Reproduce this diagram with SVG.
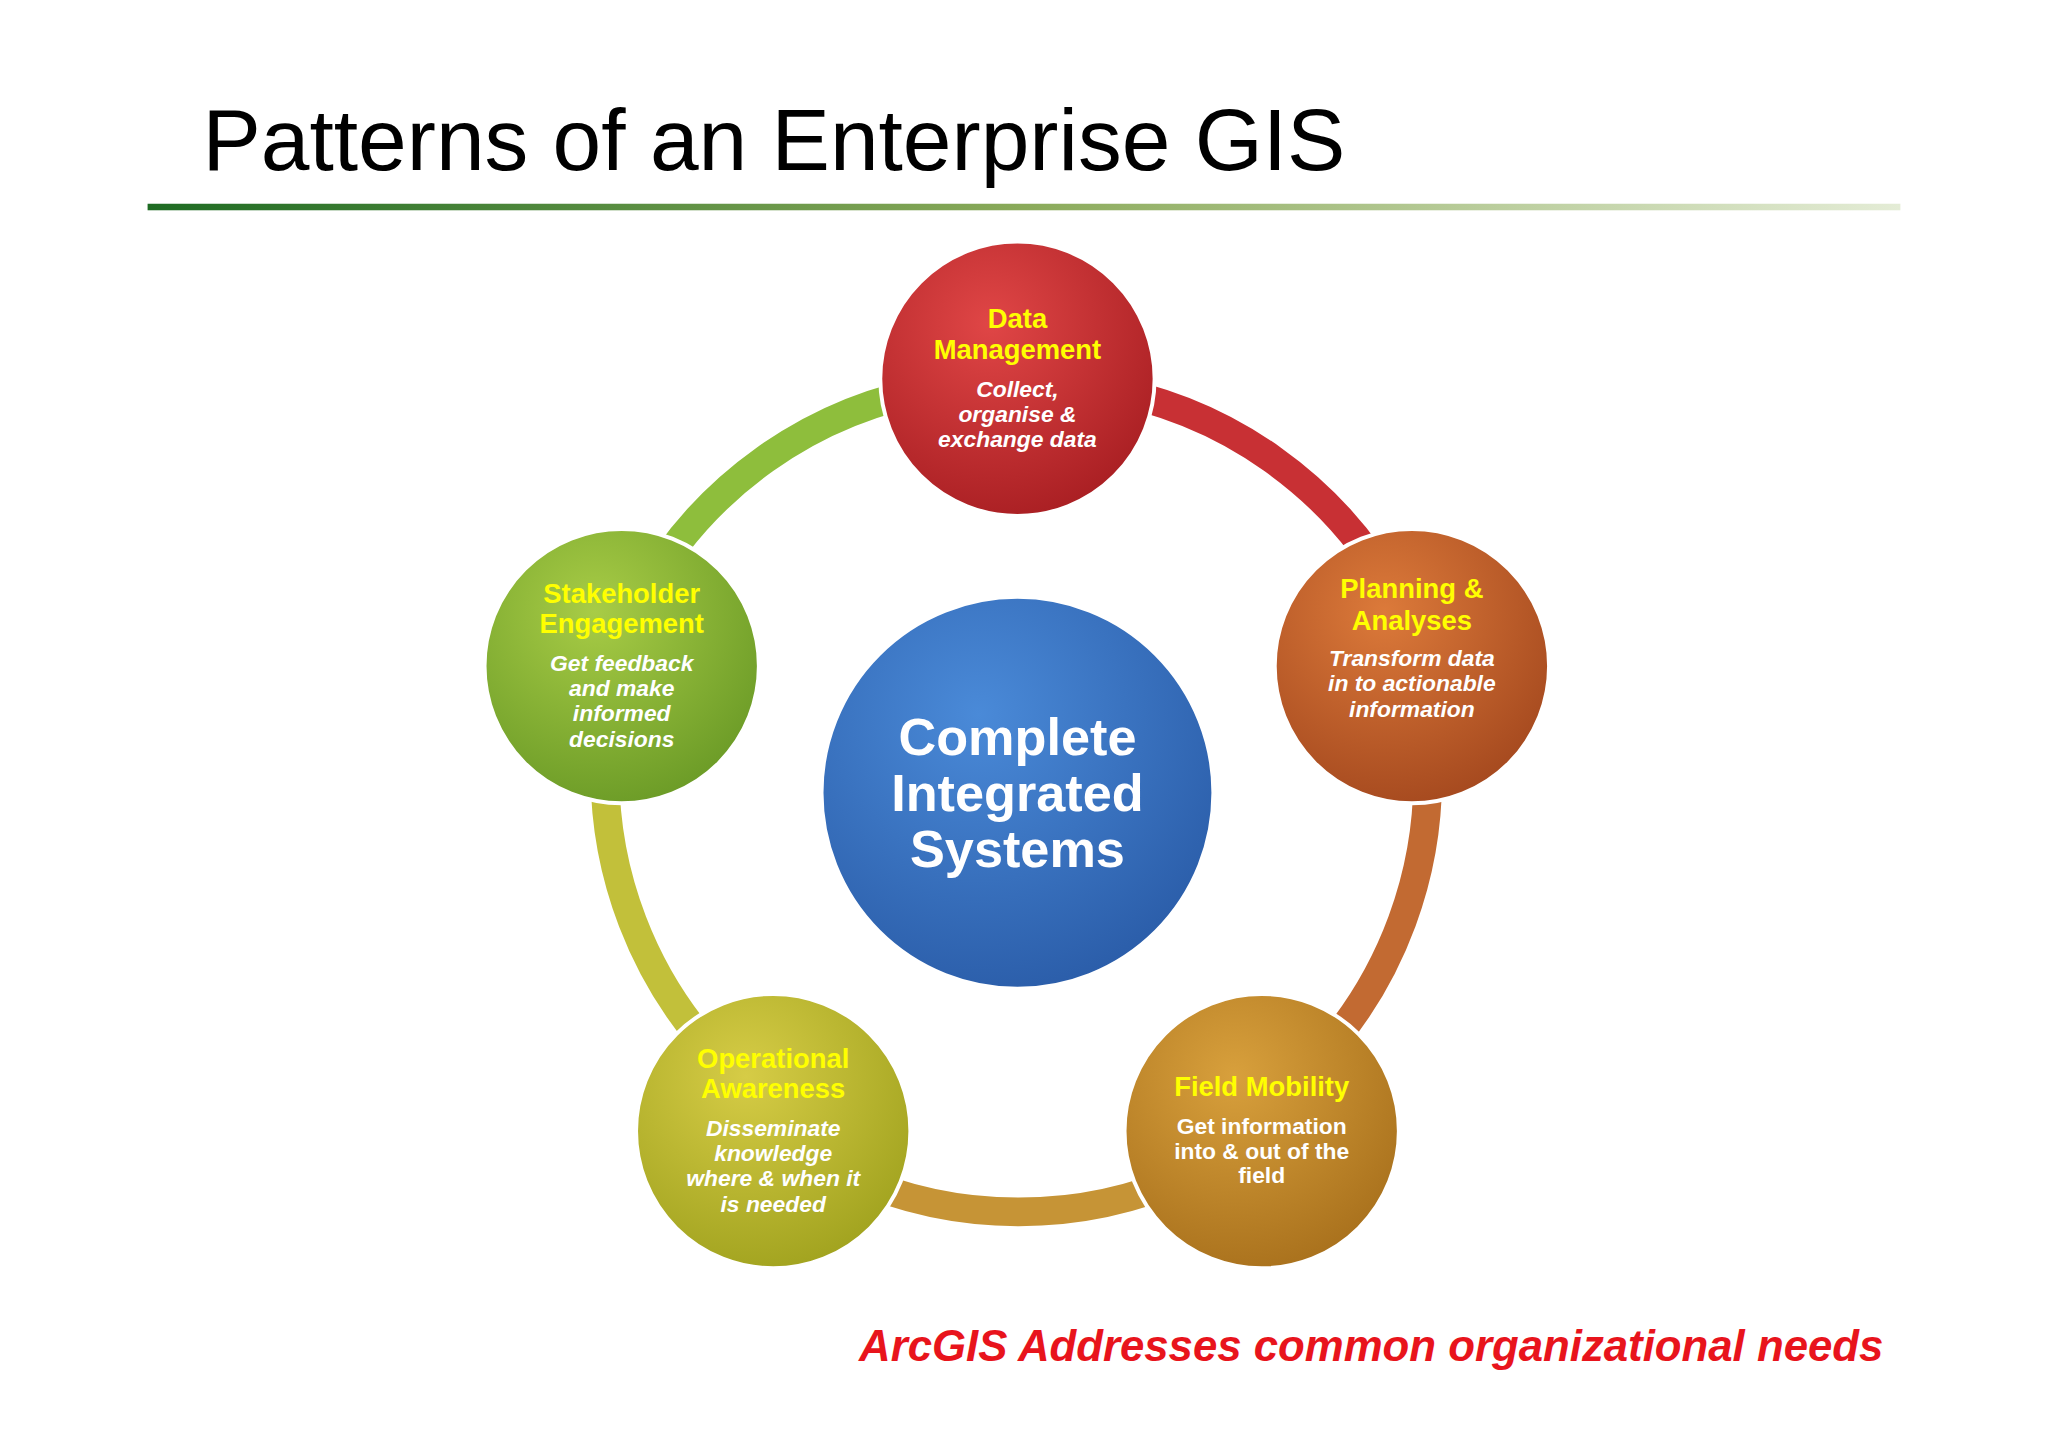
<svg xmlns="http://www.w3.org/2000/svg" width="2048" height="1447" viewBox="0 0 2048 1447">
<defs>
<linearGradient id="hl" x1="0" x2="1"><stop offset="0" stop-color="#1e6b23"/><stop offset="0.5" stop-color="#8aaa5a"/><stop offset="1" stop-color="#e4ecd6"/></linearGradient>
<radialGradient id="gr" cx="0.4" cy="0.3" r="0.75"><stop offset="0" stop-color="#e04646"/><stop offset="1" stop-color="#a81e22"/></radialGradient>
<radialGradient id="go" cx="0.4" cy="0.3" r="0.75"><stop offset="0" stop-color="#dc7a3a"/><stop offset="1" stop-color="#a4481e"/></radialGradient>
<radialGradient id="gf" cx="0.4" cy="0.3" r="0.75"><stop offset="0" stop-color="#d8a03c"/><stop offset="1" stop-color="#a8701c"/></radialGradient>
<radialGradient id="gy" cx="0.4" cy="0.3" r="0.75"><stop offset="0" stop-color="#d6cc46"/><stop offset="1" stop-color="#a0a21e"/></radialGradient>
<radialGradient id="gg" cx="0.4" cy="0.3" r="0.75"><stop offset="0" stop-color="#a8cc46"/><stop offset="1" stop-color="#6a9a26"/></radialGradient>
<radialGradient id="gb" cx="0.4" cy="0.3" r="0.75"><stop offset="0" stop-color="#4a8ad8"/><stop offset="1" stop-color="#2a5ca8"/></radialGradient>
</defs>
<style>
.t{font-family:"Liberation Sans",Arial,sans-serif;font-weight:bold;fill:#ffff00;font-size:21px;text-anchor:middle}
.d{font-family:"Liberation Sans",Arial,sans-serif;font-weight:bold;font-style:italic;fill:#fff;font-size:17.5px;text-anchor:middle}
.ring{fill:none;stroke-width:22}
.n{stroke:#fff;stroke-width:3}
</style>
<rect width="2048" height="1447" fill="#fff"/>
<g transform="scale(1.3061)">
<text x="155" y="130" font-family="Liberation Sans,Arial,sans-serif" font-size="67" fill="#000">Patterns of an Enterprise GIS</text>
<rect x="113" y="156" width="1342" height="5" fill="url(#hl)"/>
<g id="connectors">
<path class="ring" stroke="#c83034" d="M840 297 A317 317 0 0 1 1070 460"/>
<path class="ring" stroke="#c26a32" d="M1092 570 A317 317 0 0 1 1000 820"/>
<path class="ring" stroke="#c69436" d="M650 900 A317 317 0 0 0 910 900"/>
<path class="ring" stroke="#c2c03a" d="M560 820 A317 317 0 0 1 464 570"/>
<path class="ring" stroke="#8ebe3c" d="M490 460 A317 317 0 0 1 720 297"/>
</g>
<g id="center"><circle class="n" cx="779" cy="607" r="150" fill="url(#gb)"/>
<text font-family="Liberation Sans,Arial,sans-serif" font-weight="bold" font-size="40" fill="#fff" text-anchor="middle"><tspan x="779" y="578">Complete</tspan><tspan x="779" y="621">Integrated</tspan><tspan x="779" y="664">Systems</tspan></text></g>
<g id="data"><circle class="n" cx="779" cy="290" r="105" fill="url(#gr)"/>
<text class="t"><tspan x="779" y="251">Data</tspan><tspan x="779" y="275">Management</tspan></text>
<text class="d"><tspan x="779" y="304">Collect,</tspan><tspan x="779" y="323">organise &amp;</tspan><tspan x="779" y="342">exchange data</tspan></text></g>
<g id="planning"><circle class="n" cx="1081" cy="510" r="105" fill="url(#go)"/>
<text class="t"><tspan x="1081" y="458">Planning &amp;</tspan><tspan x="1081" y="482">Analyses</tspan></text>
<text class="d"><tspan x="1081" y="510">Transform data</tspan><tspan x="1081" y="529">in to actionable</tspan><tspan x="1081" y="549">information</tspan></text></g>
<g id="field"><circle class="n" cx="966" cy="866" r="105" fill="url(#gf)"/>
<text class="t"><tspan x="966" y="839">Field Mobility</tspan></text>
<text class="d" style="font-style:normal"><tspan x="966" y="868">Get information</tspan><tspan x="966" y="887">into &amp; out of the</tspan><tspan x="966" y="906">field</tspan></text></g>
<g id="operational"><circle class="n" cx="592" cy="866" r="105" fill="url(#gy)"/>
<text class="t"><tspan x="592" y="818">Operational</tspan><tspan x="592" y="841">Awareness</tspan></text>
<text class="d"><tspan x="592" y="870">Disseminate</tspan><tspan x="592" y="889">knowledge</tspan><tspan x="592" y="908">where &amp; when it</tspan><tspan x="592" y="928">is needed</tspan></text></g>
<g id="stakeholder"><circle class="n" cx="476" cy="510" r="105" fill="url(#gg)"/>
<text class="t"><tspan x="476" y="462">Stakeholder</tspan><tspan x="476" y="485">Engagement</tspan></text>
<text class="d"><tspan x="476" y="514">Get feedback</tspan><tspan x="476" y="533">and make</tspan><tspan x="476" y="552">informed</tspan><tspan x="476" y="572">decisions</tspan></text></g>
<text x="1442" y="1042" text-anchor="end" font-family="Liberation Sans,Arial,sans-serif" font-weight="bold" font-style="italic" font-size="33.5" fill="#e8141c">ArcGIS Addresses common organizational needs</text>
</g>
</svg>
